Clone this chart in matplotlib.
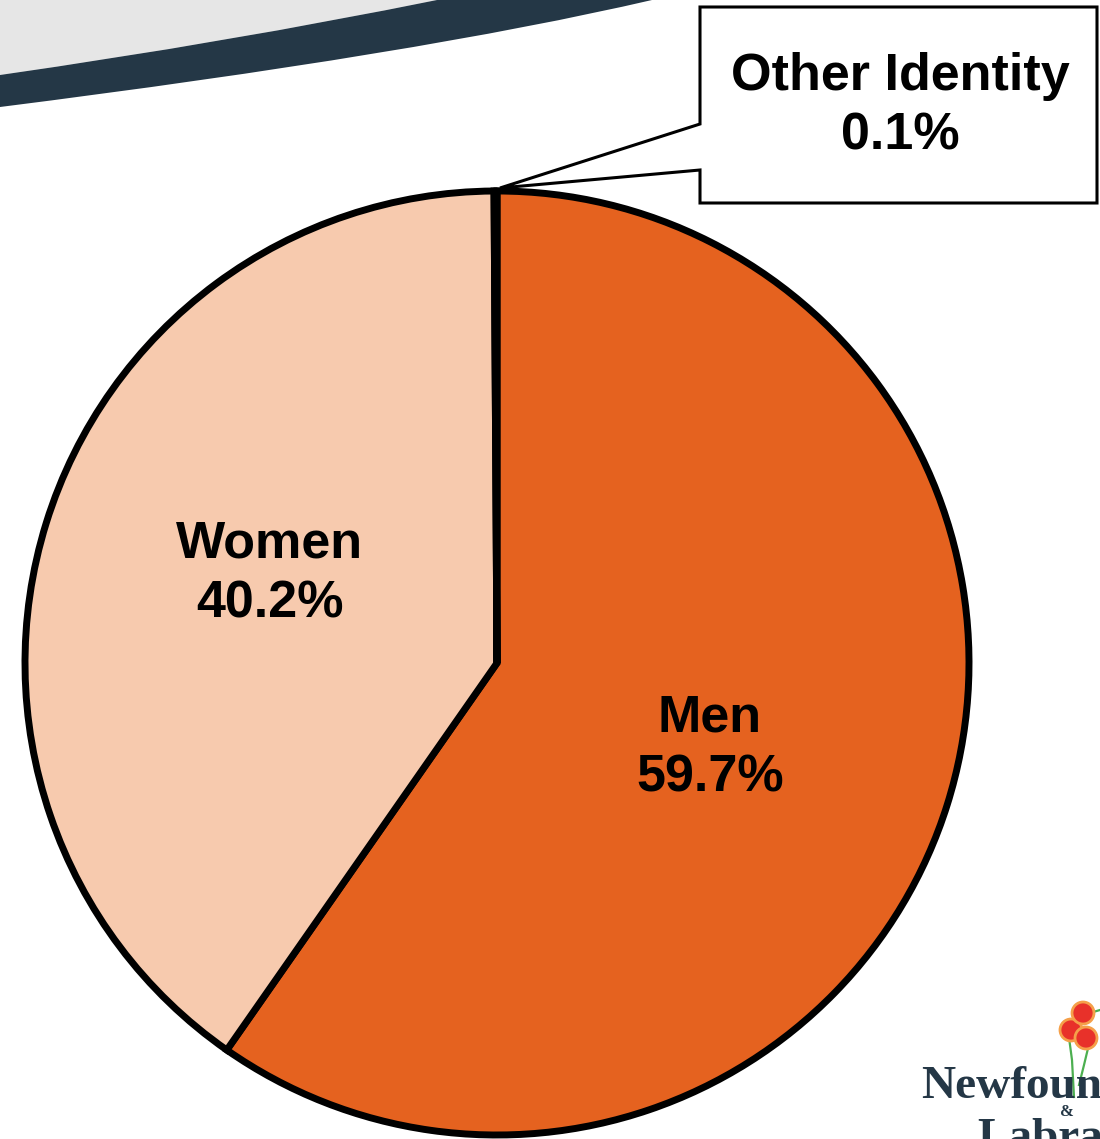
import matplotlib
matplotlib.use("Agg")
import matplotlib.pyplot as plt
from matplotlib.path import Path
from matplotlib.patches import PathPatch, Polygon, Circle

# ---- data ----
categories = ["Men", "Women", "Other Identity"]
values = [59.7, 40.2, 0.1]
colors = ["#E5621F", "#F7CAAE", "#000000"]

W, H = 1100, 1139
fig = plt.figure(figsize=(W / 100, H / 100), dpi=100)
ax = fig.add_axes([0, 0, 1, 1])

def Y(y):  # pixel-from-top to data y
    return H - y

# ---- decorative swoosh at top-left ----
grey = Path([(0, Y(0)), (0, Y(75)), (230, Y(42)), (437, Y(0)), (0, Y(0))],
            [Path.MOVETO, Path.LINETO, Path.CURVE3, Path.CURVE3, Path.CLOSEPOLY])
ax.add_patch(PathPatch(grey, facecolor="#E6E6E6", edgecolor="none", zorder=1))
navy = Path([(0, Y(75)), (230, Y(42)), (437, Y(0)), (652, Y(0)),
             (420, Y(54)), (0, Y(107)), (0, Y(75))],
            [Path.MOVETO, Path.CURVE3, Path.CURVE3, Path.LINETO,
             Path.CURVE3, Path.CURVE3, Path.CLOSEPOLY])
ax.add_patch(PathPatch(navy, facecolor="#243746", edgecolor="none", zorder=1))

# ---- pie ----
cx, cy, r = 497, Y(663), 472
wedges, _ = ax.pie(values, colors=colors, startangle=90, counterclock=False,
                   center=(cx, cy), radius=r,
                   wedgeprops=dict(edgecolor="black", linewidth=5, zorder=2))

font = dict(family=["Liberation Sans", "DejaVu Sans"], fontsize=37.5,
            fontweight="bold", ha="center", va="center", linespacing=1.27, zorder=5)
ax.text(710, Y(748), f"{categories[0]}\n{values[0]:.1f}%", **font)
ax.text(270, Y(574), f"{categories[1]}\n{values[1]:.1f}%", **font)

# ---- callout for Other Identity ----
callout = Polygon([(700, Y(7)), (1097, Y(7)), (1097, Y(203)), (700, Y(203)),
                   (700, Y(170)), (500, Y(188)), (700, Y(124))],
                  closed=True, facecolor="white", edgecolor="black",
                  linewidth=2.2, joinstyle="miter", zorder=4)
ax.add_patch(callout)
ax.text(900, Y(106), f"{categories[2]}\n{values[2]:.1f}%", **font)

# ---- logo (partial, bottom right) ----
stem_kw = dict(color="#4CAF50", linewidth=1.6, zorder=3)
ax.plot([1068, 1072, 1074], [Y(1030), Y(1060), Y(1097)], **stem_kw)
ax.plot([1090, 1084, 1079], [Y(1040), Y(1065), Y(1085)], **stem_kw)
ax.plot([1083, 1100], [Y(1015), Y(1010)], **stem_kw)
for (fx, fy) in [(1071, 1030), (1083, 1013), (1086, 1038)]:
    ax.add_patch(Circle((fx, Y(fy)), 11, facecolor="#E8312A",
                        edgecolor="#F5A04A", linewidth=2, zorder=3))
logo_font = dict(family=["Liberation Serif", "DejaVu Serif"], color="#243746",
                 fontweight="bold", zorder=4, clip_on=True)
ax.text(921, Y(1098), "Newfoundland", fontsize=34, ha="left", va="baseline",
        **logo_font)
ax.text(1067, Y(1112), "&", fontsize=12, ha="center", va="center", **logo_font)
ax.text(977, Y(1150), "Labrador", fontsize=34, ha="left", va="baseline",
        **logo_font)

ax.set_xlim(0, W)
ax.set_ylim(0, H)
ax.set_aspect("auto")
ax.axis("off")
fig.savefig("out.png", dpi=100)
